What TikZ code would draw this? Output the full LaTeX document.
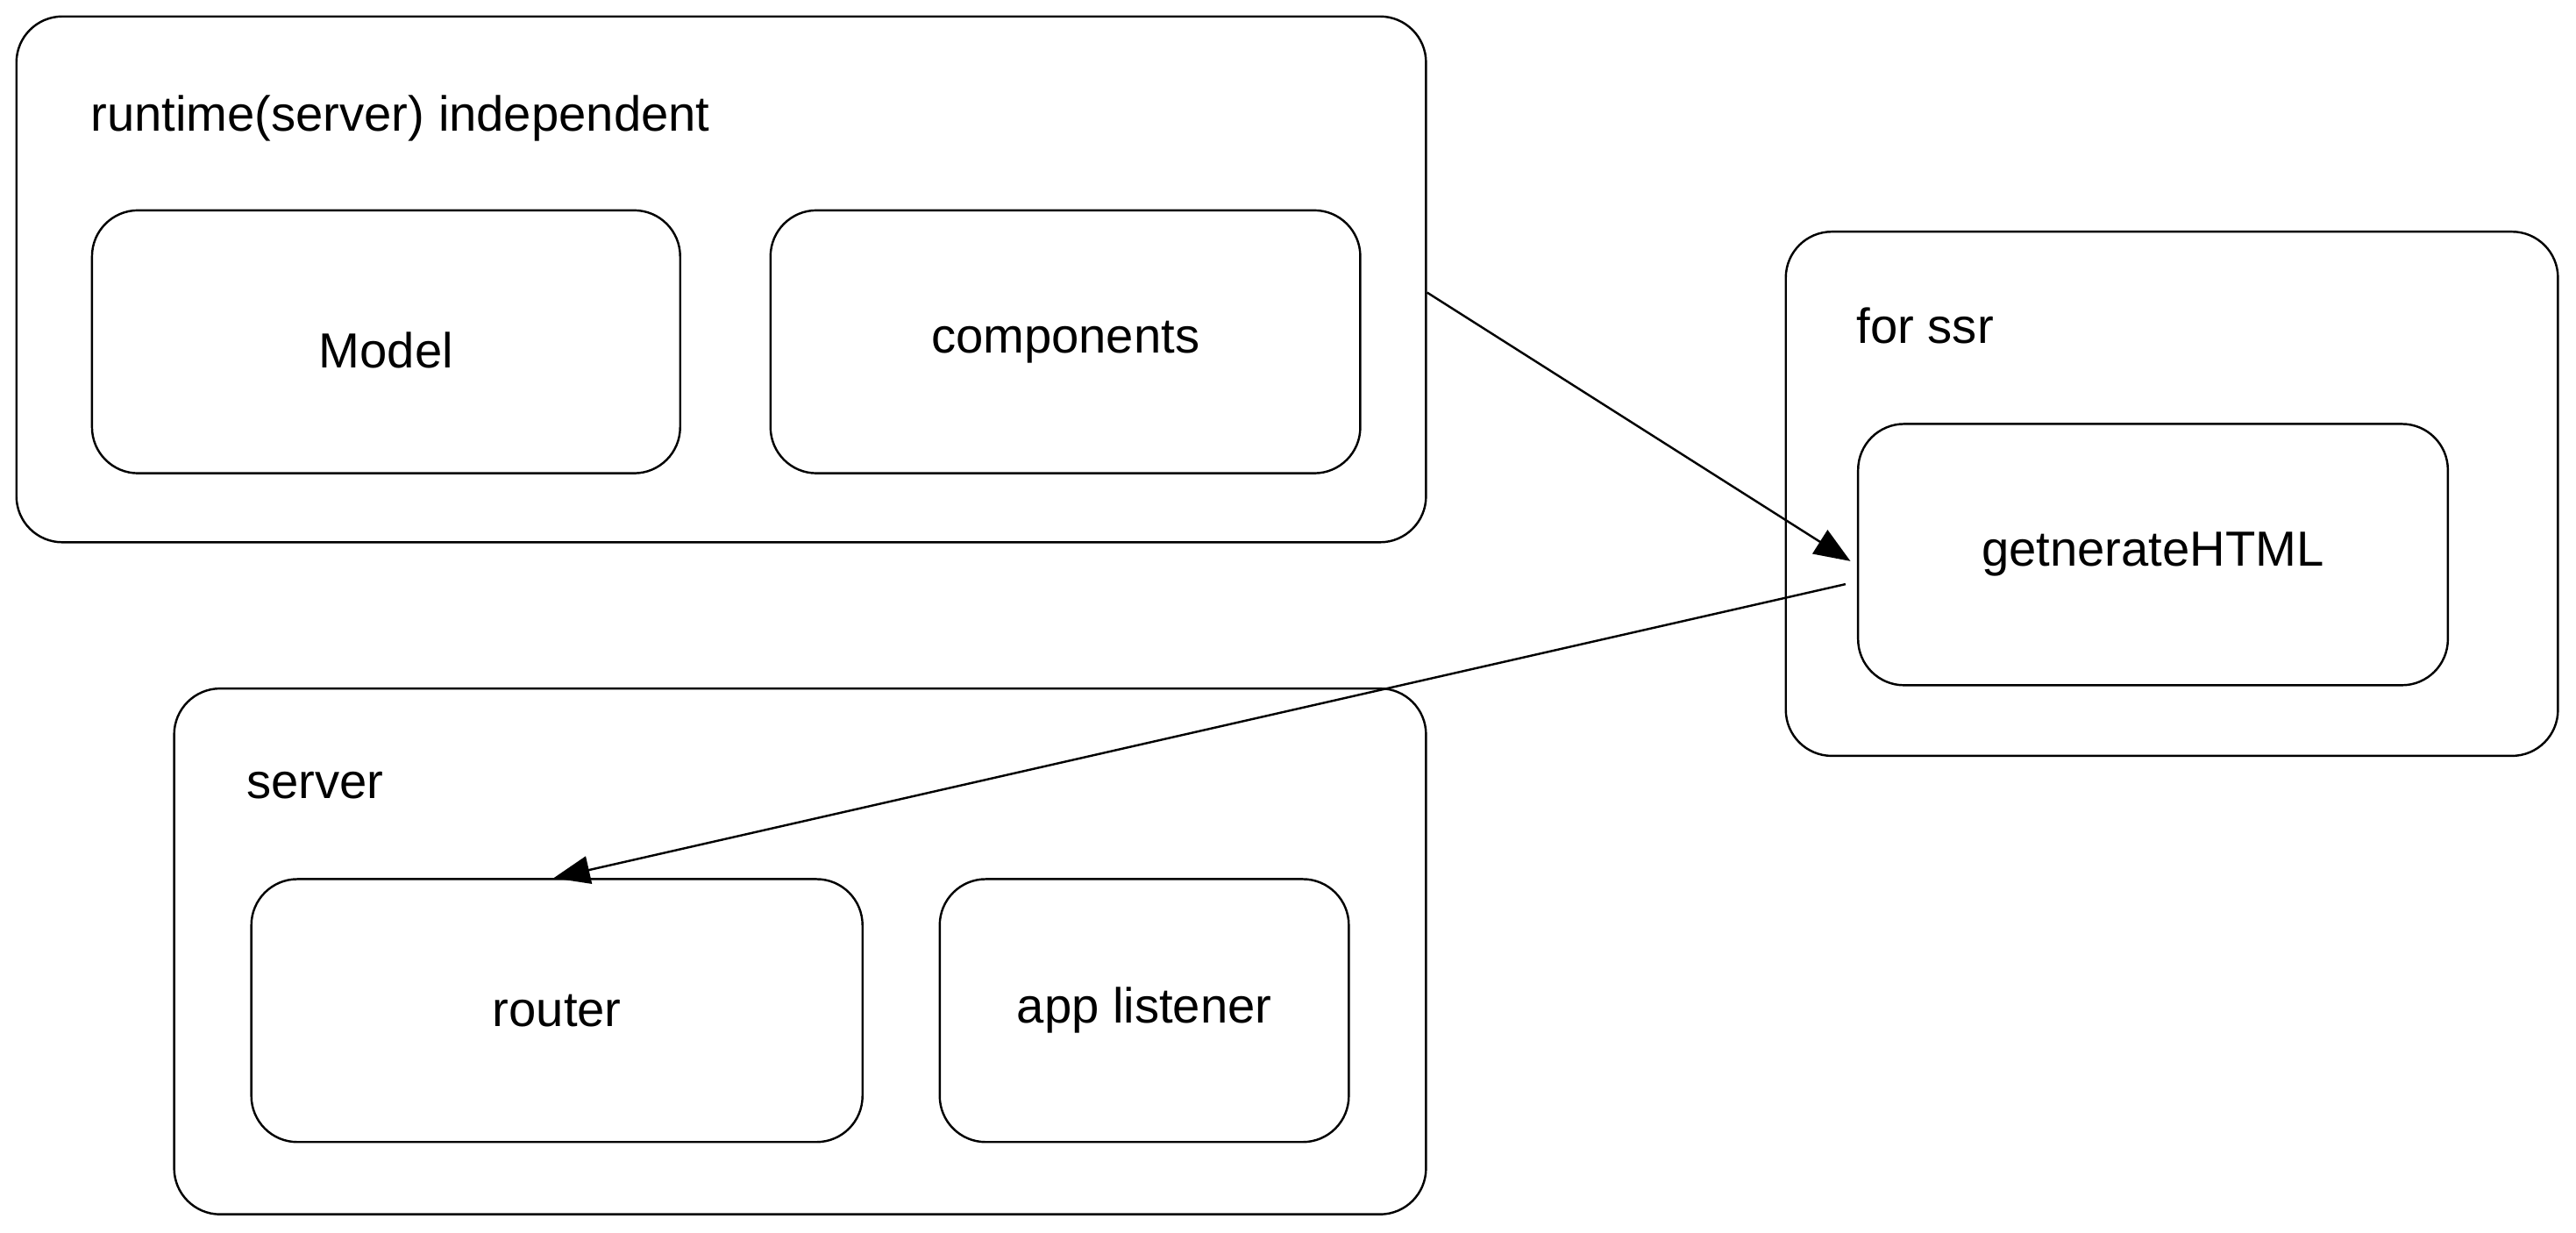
\documentclass[tikz,border=0pt]{standalone}
\usepackage{fontspec}
\setmainfont{Liberation Sans}
\usetikzlibrary{arrows.meta}
\begin{document}
\begin{tikzpicture}[x=1pt,y=-1pt,
  box/.style={draw=black,line width=1.3pt,rounded corners=28pt,inner sep=0pt},
  lbl/.style={anchor=west,inner sep=0pt,font=\fontsize{30}{36}\selectfont},
  txt/.style={inner sep=0pt,font=\fontsize{30}{36}\selectfont},
  conn/.style={draw=black,line width=1.3pt,-{Triangle[length=22pt,width=17pt]}}]
\useasboundingbox[fill=white] (0,0) rectangle (1568,750);
% outer boxes
\node[box,minimum width=858pt,minimum height=320pt] (rti) at (439,170) {};
\node[box,minimum width=470pt,minimum height=319pt] (ssr) at (1322,300.5) {};
\node[box,minimum width=762pt,minimum height=320pt] (srv) at (487,579) {};
% labels
\node[lbl] (rtil) at (55,72) {runtime(server) independent};
\node[lbl] (ssrl) at (1130,198) {for ssr};
\node[lbl] (srvl) at (150,478) {server};
% inner boxes
\node[box,minimum width=358pt,minimum height=160pt] (model) at (235,208) {};
\node[txt] at ([yshift=-5pt]model.center) {Model};
\node[box,minimum width=359pt,minimum height=160pt] (comp) at (648.5,208) {};
\node[txt] at (comp) {components};
\node[box,minimum width=359pt,minimum height=159pt] (gen) at (1310.5,337.5) {};
\node[txt] at (gen) {getnerateHTML};
\node[box,minimum width=372pt,minimum height=160pt] (router) at (339,615) {};
\node[txt] at (router) {router};
\node[box,minimum width=249pt,minimum height=160pt] (app) at (696.5,615) {};
\node[txt] at (app) {app listener};
% connectors
\draw[conn] ([yshift=-8pt]rti.east) -- ([xshift=-4pt,yshift=-4pt]gen.west);
\draw[conn] ([xshift=-7pt,yshift=-18pt]gen.west) -- ([xshift=-2pt]router.north);
\end{tikzpicture}
\end{document}
